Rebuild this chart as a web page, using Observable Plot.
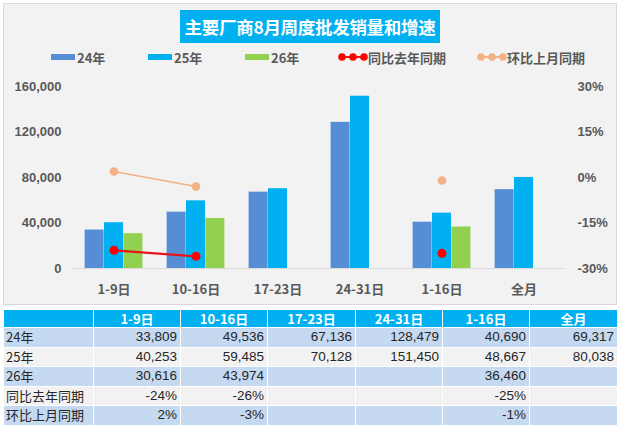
<!DOCTYPE html>
<html>
<head>
<meta charset="utf-8">
<script src="https://cdn.jsdelivr.net/npm/d3@7"></script>
<script src="https://cdn.jsdelivr.net/npm/@observablehq/plot@0.6"></script>
<style>
  html, body { margin: 0; padding: 0; background: #fff; }
  #root { position: relative; width: 620px; height: 429px; overflow: hidden; font-family: "Liberation Sans", "Noto Sans CJK SC", sans-serif; }
  #panel { position: absolute; left: 3px; top: 3px; width: 612px; height: 300px; background: #f2f2f2; border: 1px solid #d9d9d9; }
  #title { position: absolute; left: 180px; top: 10px; width: 260px; height: 33px; background: #00b0f0; color: #fff;
           font: bold 17.5px "Noto Sans CJK SC", sans-serif; display: flex; align-items: center; justify-content: center; letter-spacing: -0.3px; }
  .leg { position: absolute; top: 49px; height: 16px; display: flex; align-items: center; font: bold 13px "Noto Sans CJK SC", sans-serif; color: #595959; }
  .sw { width: 24px; height: 6px; margin-right: 2px; }
  #chart { position: absolute; left: 0; top: 70px; }
  #tbl { position: absolute; left: 3px; top: 309px; border-collapse: collapse; table-layout: fixed; font: 13.5px "Liberation Sans", "Noto Sans CJK SC", sans-serif; color: #262626; }
  #tbl td, #tbl th { border: 1px solid #fff; padding: 0 3px; height: 18.5px; line-height: 18.5px; white-space: nowrap; overflow: hidden; }
  #tbl th { background: #00b0f0; color: #fff; font-weight: bold; text-align: center; font-family: "Noto Sans CJK SC", sans-serif; font-size: 13px; height: 17px; line-height: 17px; }
  #tbl td { text-align: right; }
  #tbl td.lab { text-align: left; font-family: "Noto Sans CJK SC", sans-serif; font-size: 13px; padding-left: 2px; }
  #tbl tr.b td { background: #c5d9f1; }
  #tbl tr.w td { background: #f2f2f2; }
</style>
</head>
<body>
<div id="root">
  <div id="panel"></div>
  <div id="title">主要厂商8月周度批发销量和增速</div>
  <div id="legend"></div>
  <div id="chart"></div>
  <table id="tbl"></table>
</div>
<script>
// ---- data ----
const categories = ["1-9日", "10-16日", "17-23日", "24-31日", "1-16日", "全月"];
const seriesNames = ["24年", "25年", "26年"];
const sales24 = [33809, 49536, 67136, 128479, 40690, 69317];
const sales25 = [40253, 59485, 70128, 151450, 48667, 80038];
const sales26 = [30616, 43974, null, null, 36460, null];
const yoyRate = [-0.24, -0.26, null, null, -0.25, null];   // 同比去年同期
const momRate = [0.02, -0.03, null, null, -0.01, null];     // 环比上月同期
const rateNames = ["同比去年同期", "环比上月同期"];
const leftTicks = [0, 40000, 80000, 120000, 160000];
const rightTicks = [-0.30, -0.15, 0, 0.15, 0.30];

// ---- style ----
const colors = {s24: "#558ed5", s25: "#00b0f0", s26: "#92d050", yoy: "#ff0000", mom: "#f4b183"};
const W = 620, H = 235, ML = 72, MR = 55, MT = 16, MB = 37;
const padInner = 0.764;
const bw = (W - ML - MR) / categories.length * (1 - padInner);

// secondary axis mapping (percent -> left-axis units)
const yMax = 160000, pMin = -0.30, pMax = 0.30;
const toY = p => p == null ? null : (p - pMin) / (pMax - pMin) * yMax;
const toP = y => y / yMax * (pMax - pMin) + pMin;

const rows = categories.map((c, i) => ({
  cat: c, s24: sales24[i], s25: sales25[i], s26: sales26[i],
  yoy: toY(yoyRate[i]), mom: toY(momRate[i])
}));
const has = k => rows.filter(d => d[k] != null);

const txt = "#595959";
const plot = Plot.plot({
  width: W, height: H,
  marginLeft: ML, marginRight: MR, marginTop: MT, marginBottom: MB,
  style: {background: "transparent", color: txt, fontFamily: "'Liberation Sans', 'Noto Sans CJK SC', sans-serif"},
  x: {type: "band", domain: categories, paddingInner: padInner, paddingOuter: padInner / 2, axis: null},
  y: {domain: [0, yMax], axis: null},
  marks: [
    Plot.barY(has("s24"), {x: "cat", y: "s24", fill: colors.s24, dx: -bw}),
    Plot.barY(has("s25"), {x: "cat", y: "s25", fill: colors.s25}),
    Plot.barY(has("s26"), {x: "cat", y: "s26", fill: colors.s26, dx: bw}),
    Plot.ruleY([0], {stroke: "#d9d9d9", strokeWidth: 1}),
    Plot.line(rows, {x: "cat", y: "mom", stroke: colors.mom, strokeWidth: 1.5}),
    Plot.dot(has("mom"), {x: "cat", y: "mom", r: 4.3, fill: colors.mom, stroke: "none"}),
    Plot.line(rows, {x: "cat", y: "yoy", stroke: "#e8131b", strokeWidth: 2.25}),
    Plot.dot(has("yoy"), {x: "cat", y: "yoy", r: 4.5, fill: colors.yoy, stroke: "none"}),
    Plot.axisX({anchor: "bottom", tickSize: 0, tickPadding: 16, fontSize: 13, fontWeight: "bold", fill: txt, label: null,
                fontFamily: "'Noto Sans CJK SC', sans-serif"}),
    Plot.axisY({anchor: "left", ticks: leftTicks, tickFormat: d3.format(","), tickSize: 0, tickPadding: 11,
                fontSize: 13, fontWeight: "bold", fill: txt, label: null}),
    Plot.axisY({anchor: "right", ticks: rightTicks.map(toY), tickFormat: d => Math.round(toP(d) * 100) + "%",
                tickSize: 0, tickPadding: 12, fontSize: 13, fontWeight: "bold", fill: txt, label: null})
  ]
});
document.getElementById("chart").appendChild(plot);

// ---- legend ----
const legend = document.getElementById("legend");
const legItems = [
  {name: seriesNames[0], color: colors.s24, left: 51, type: "bar"},
  {name: seriesNames[1], color: colors.s25, left: 148, type: "bar"},
  {name: seriesNames[2], color: colors.s26, left: 245, type: "bar"},
  {name: rateNames[0], color: colors.yoy, line: "#e8131b", left: 338, type: "line"},
  {name: rateNames[1], color: colors.mom, line: colors.mom, left: 477, type: "line"}
];
for (const it of legItems) {
  const d = document.createElement("div");
  d.className = "leg";
  d.style.left = it.left + "px";
  if (it.type === "bar") {
    const s = document.createElement("div");
    s.className = "sw"; s.style.background = it.color;
    d.appendChild(s);
  } else {
    const ns = "http://www.w3.org/2000/svg";
    const svg = document.createElementNS(ns, "svg");
    svg.setAttribute("width", 30); svg.setAttribute("height", 10);
    const ln = document.createElementNS(ns, "line");
    ln.setAttribute("x1", 4); ln.setAttribute("x2", 26); ln.setAttribute("y1", 5); ln.setAttribute("y2", 5);
    ln.setAttribute("stroke", it.line); ln.setAttribute("stroke-width", 2);
    svg.appendChild(ln);
    for (const cx of [4, 15, 26]) {
      const c = document.createElementNS(ns, "circle");
      c.setAttribute("cx", cx); c.setAttribute("cy", 5); c.setAttribute("r", 3.8); c.setAttribute("fill", it.color);
      svg.appendChild(c);
    }
    d.appendChild(svg);
  }
  const t = document.createElement("span");
  t.textContent = it.name;
  d.appendChild(t);
  legend.appendChild(d);
}

// ---- table ----
const tbl = document.getElementById("tbl");
const colW = [90, 87, 87, 88, 87, 87, 88];
const cg = document.createElement("colgroup");
for (const w of colW) { const c = document.createElement("col"); c.style.width = w + "px"; cg.appendChild(c); }
tbl.appendChild(cg);
const fmtN = v => v == null ? "" : d3.format(",")(v);
const fmtP = v => v == null ? "" : Math.round(v * 100) + "%";
const head = document.createElement("tr");
head.innerHTML = "<th></th>" + categories.map(c => `<th>${c}</th>`).join("");
tbl.appendChild(head);
const tableRows = [
  [seriesNames[0], sales24.map(fmtN), "b"],
  [seriesNames[1], sales25.map(fmtN), "w"],
  [seriesNames[2], sales26.map(fmtN), "b"],
  [rateNames[0], yoyRate.map(fmtP), "w"],
  [rateNames[1], momRate.map(fmtP), "b"]
];
for (const [lab, vals, cls] of tableRows) {
  const tr = document.createElement("tr");
  tr.className = cls;
  tr.innerHTML = `<td class="lab">${lab}</td>` + vals.map(v => `<td>${v}</td>`).join("");
  tbl.appendChild(tr);
}
</script>
</body>
</html>
